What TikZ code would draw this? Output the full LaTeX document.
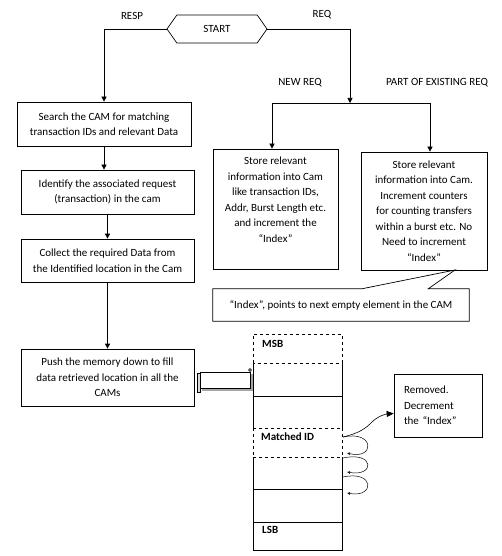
\documentclass[tikz,border=0pt]{standalone}
\usepackage{fontspec}
\setmainfont{Carlito}
\usetikzlibrary{arrows.meta,shapes.symbols}
\tikzset{
    flow/.style ={rectangle, draw, align=center, inner sep=2pt, line width=0.7pt},
    FB/.style ={flow, minimum width=173pt, minimum height=44pt},
    ST/.style ={flow, minimum width=125pt, minimum height=120pt},
    TX/.style ={align=center, inner sep=0pt},
    CL/.style ={inner sep=0pt, anchor=west, font=\bfseries\fontsize{11}{13}\selectfont},
    AR/.style ={-{Triangle[length=5pt,width=5pt]}, line width=0.7pt},
    LP/.style ={-{Latex[open,length=3pt,width=3pt]}, line width=0.5pt}}
\begin{document}
\begin{tikzpicture}[x=1pt,y=-1pt,every node/.style={font=\fontsize{11}{15.5}\selectfont}]
    \useasboundingbox (0,0) rectangle (502,556);
    \node[signal, signal to=west and east, draw, line width=0.7pt, minimum width=100pt, minimum height=28pt, signal pointer angle=110] (start) at (217,29) {START};
    \node (resp) at (132,16) {RESP};
    \node (req) at (322,15) {REQ};
    \node (newreq) at (300,83) {NEW REQ};
    \node (partreq) at (437,83) {PART OF EXISTING REQ};
    \node[FB, minimum width=174pt] (search) at (104,124) {Search the CAM for matching\\transaction IDs and relevant Data};
    \node[FB] (ident) at (107.5,192) {Identify the associated request\\(transaction) in the cam};
    \node[FB, minimum height=43pt] (collect) at (107.5,260.5) {Collect the required Data from\\the Identified location in the Cam};
    \node[FB, minimum height=57pt] (push) at (107.5,377.5) {Push the memory down to fill\\data retrieved location in all the\\CAMs};
    \node[ST] (new) at (275.5,209) {};
    \node[TX, anchor=north] (newtxt) at (275.5,157) {Store relevant\\information into Cam\\like transaction IDs,\\Addr, Burst Length etc.\\and increment the\\“Index”};
    \node[ST, minimum width=126pt, minimum height=118pt] (part) at (424,211) {Store relevant\\information into Cam.\\Increment counters\\for counting transfers\\within a burst etc. No\\Need to increment\\“Index”};
    \node[inner sep=0pt, minimum width=256pt, minimum height=32pt] (idx) at (341,305) {“Index”, points to next empty element in the CAM};
    \node[flow, text width=68pt, align=left, inner xsep=10pt, minimum height=63pt] (removed) at (438,405.5) {Removed.\\Decrement\\the “Index”};
    \coordinate (tip) at (455,270);
    \coordinate (branch) at (350,103);
    \coordinate (bl) at (272,103);
    \coordinate (br) at (430,103);
    \draw[AR] (start.west) -| (search.north);
    \draw[AR] (search.south) -- (search.south |- ident.north);
    \draw[AR] (ident.south) -- (ident.south |- collect.north);
    \draw[AR] (collect.south) -- (collect.south |- push.north);
    \draw[AR] (start.east) -| (branch);
    \draw[line width=0.7pt] (bl) -- (br);
    \draw[AR] (bl) -- (bl |- new.north);
    \draw[AR] (br) -- (br |- part.north);
    \draw[line width=0.7pt] (idx.north west) -- ++(149,0) -- (tip) -- ([xshift=-41pt]idx.north east) -- (idx.north east) -- (idx.south east) -- (idx.south west) -- cycle;
    % CAM stack
    \draw[dashed, line width=0.7pt] (253,363) -- (253,334) -- (342,334) -- (342,363) -- cycle;
    \draw[line width=0.7pt] (253,363) -- (253,428) (342,363) -- (342,428);
    \draw[dashed, line width=0.7pt] (253,428) -- (253,457) (342,428) -- (342,457);
    \draw[dashed, line width=0.7pt] (253,428) -- (342,428) (253,457) -- (342,457);
    \draw[line width=0.7pt] (253,457) -- (253,550) -- (342,550) -- (342,457);
    \draw[line width=0.7pt] (253,396) -- (342,396) (253,489) -- (342,489) (253,522) -- (342,522);
    \node[CL] (msb) at (262,344) {MSB};
    \node[CL] (matched) at (261,437) {Matched ID};
    \node[CL] (lsb) at (262,530) {LSB};
    % scroll
    \draw[gray!70, line width=1.2pt] (202,390) -- (252,390) -- (252,374);
    \draw[line width=0.6pt, fill=white] (200,372) rectangle (250,388);
    \draw[line width=0.6pt, fill=gray!30] (197,373) rectangle (200,392);
    \draw[line width=0.6pt, fill=gray!60] (250,370) circle (1.5pt);
    \draw[-{Triangle[length=7pt,width=6pt]}, line width=0.6pt] (343,437) .. controls (360,433) and (366,428) .. (372,422) .. controls (378,416) and (386,414) .. ([yshift=-8pt]removed.west);
    \draw[LP] (343,437) .. controls (375,430) and (375,460) .. (347,453);
    \draw[LP] (343,458) .. controls (375,451) and (375,477) .. (347,472);
    \draw[LP] (343,477) .. controls (375,470) and (375,498) .. (347,493);
\end{tikzpicture}
\end{document}
